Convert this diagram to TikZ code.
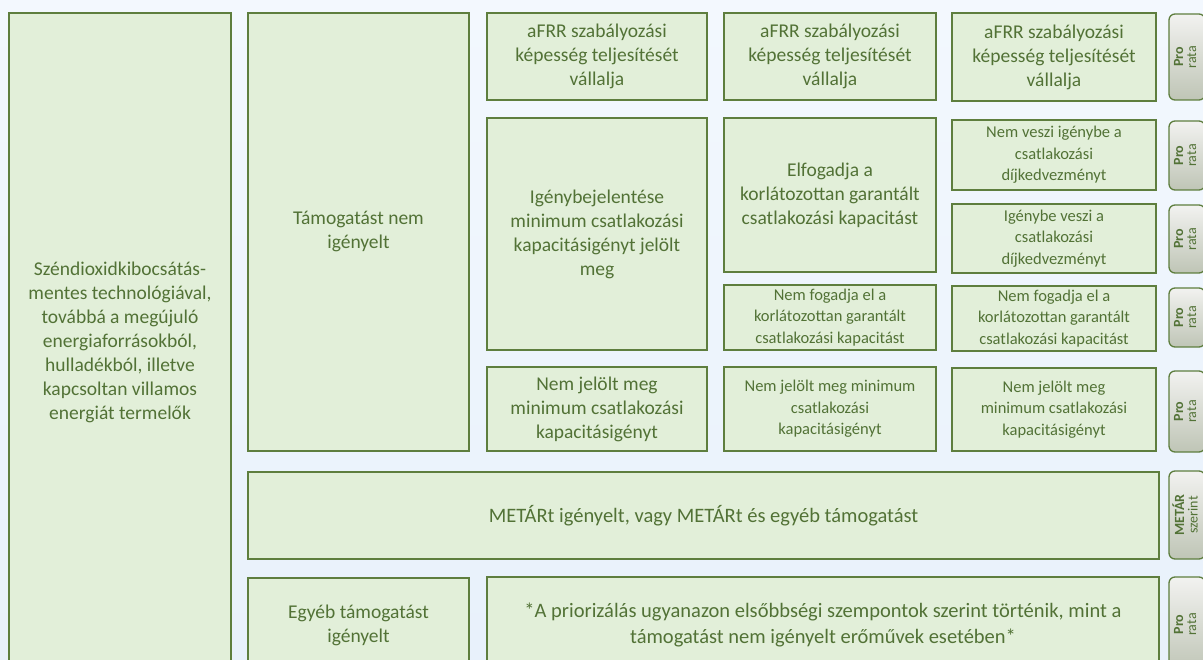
\documentclass[tikz,border=0pt]{standalone}
\usepackage{fontspec}
\setmainfont{Carlito}
\usepackage{tikz}
\usetikzlibrary{positioning}
\definecolor{boxfill}{HTML}{E2EFD9}
\definecolor{boxline}{HTML}{5E7E3E}
\definecolor{boxtext}{HTML}{527236}
\definecolor{slidetop}{HTML}{F3F8FE}
\definecolor{slidebottom}{HTML}{E8F1FB}
\definecolor{tabtop}{HTML}{F2F2F0}
\definecolor{tabbottom}{HTML}{BFC5B6}
\newcommand{\tabtext}[2]{\rotatebox{90}{\begin{tabular}{@{}c@{}}\textbf{#1}\\#2\end{tabular}}}

\begin{document}
\begin{tikzpicture}[x=1pt,y=-1pt,
    rect/.style={draw=boxline,line width=1.3pt,fill=boxfill,text=boxtext,align=center,inner sep=2pt},
    big/.style={rect,font=\fontsize{19.5}{24}\selectfont},
    wide/.style={rect,font=\fontsize{20.5}{26}\selectfont},
    small/.style={rect,font=\fontsize{16.5}{21.5}\selectfont},
    tab/.style={draw=boxline,line width=1.3pt,rounded corners=6pt,top color=tabtop,bottom color=tabbottom,
        text=boxtext,font=\fontsize{14}{13}\selectfont,minimum width=36pt,inner sep=0pt}]
        \useasboundingbox (0,0) rectangle (1203,660);
        \clip (0,0) rectangle (1203,660);
        \shade[top color=slidetop,bottom color=slidebottom] (0,0) rectangle (1203,660);

        \node[big, minimum width=222pt, minimum height=659pt] (producer) at (120,342.5)
            {Széndioxidkibocsátás-\\mentes technológiával,\\továbbá a megújuló\\energiaforrásokból,\\hulladékból, illetve\\kapcsoltan villamos\\energiát termelők};

        \node[big, minimum width=221pt, minimum height=438pt] (notReq) at (358.5,232)
            {Támogatást nem\\igényelt};

        \node[big, minimum width=220pt, minimum height=87pt] (afrrA) at (597,56.5)
            {aFRR szabályozási\\képesség teljesítését\\vállalja};

        \node[big, minimum width=212pt, minimum height=87pt] (afrrB) at (830,56.5)
            {aFRR szabályozási\\képesség teljesítését\\vállalja};

        \node[big, minimum width=204pt, minimum height=88pt] (afrrC) at (1054,57)
            {aFRR szabályozási\\képesség teljesítését\\vállalja};

        \node[big, minimum width=220pt, minimum height=232pt] (minReq) at (597,234)
            {Igénybejelentése\\minimum csatlakozási\\kapacitásigényt jelölt\\meg};

        \node[big, minimum width=212pt, minimum height=154pt] (acceptB) at (830,195)
            {Elfogadja a\\korlátozottan garantált\\csatlakozási kapacitást};

        \node[small, minimum width=212pt, minimum height=65pt] (refuseB) at (830,317.5)
            {Nem fogadja el a\\korlátozottan garantált\\csatlakozási kapacitást};

        \node[small, minimum width=204pt, minimum height=70pt] (noFeeC) at (1054,155)
            {Nem veszi igénybe a\\csatlakozási\\díjkedvezményt};

        \node[small, minimum width=204pt, minimum height=69pt] (feeC) at (1054,238.5)
            {Igénybe veszi a\\csatlakozási\\díjkedvezményt};

        \node[small, minimum width=204pt, minimum height=65pt] (refuseC) at (1054,318.5)
            {Nem fogadja el a\\korlátozottan garantált\\csatlakozási kapacitást};

        \node[big, minimum width=220pt, minimum height=84pt] (noMinA) at (597,409)
            {Nem jelölt meg\\minimum csatlakozási\\kapacitásigényt};

        \node[small, minimum width=212pt, minimum height=84pt] (noMinB) at (830,409)
            {Nem jelölt meg minimum\\csatlakozási\\kapacitásigényt};

        \node[small, minimum width=204pt, minimum height=83pt] (noMinC) at (1054,409.5)
            {Nem jelölt meg\\minimum csatlakozási\\kapacitásigényt};

        \node[wide, minimum width=911pt, minimum height=87pt] (metar) at (703.5,515.5)
            {METÁRt igényelt, vagy METÁRt és egyéb támogatást};

        \node[big, minimum width=221pt, minimum height=94pt] (otherReq) at (358.5,625)
            {Egyéb támogatást\\igényelt};

        \node[wide, minimum width=672pt, minimum height=95pt] (note) at (823,624.5)
            {*A priorizálás ugyanazon elsőbbségi szempontok szerint történik, mint a\\támogatást nem igényelt erőművek esetében*};

        \node[tab, minimum height=86pt] (tabAfrr) at (1187,57) {\tabtext{Pro}{rata}};
        \node[tab, minimum height=69pt] (tabNoFee) at (1187,155.5) {\tabtext{Pro}{rata}};
        \node[tab, minimum height=68pt] (tabFee) at (1187,239) {\tabtext{Pro}{rata}};
        \node[tab, minimum height=59pt] (tabRefuse) at (1187,317.5) {\tabtext{Pro}{rata}};
        \node[tab, minimum height=81pt] (tabNoMin) at (1187,411.5) {\tabtext{Pro}{rata}};
        \node[tab, minimum height=88pt] (tabMetar) at (1187,515) {\tabtext{METÁR}{szerint}};
        \node[tab, minimum height=95pt] (tabOther) at (1187,624.5) {\tabtext{Pro}{rata}};
    \end{tikzpicture}
\end{document}
